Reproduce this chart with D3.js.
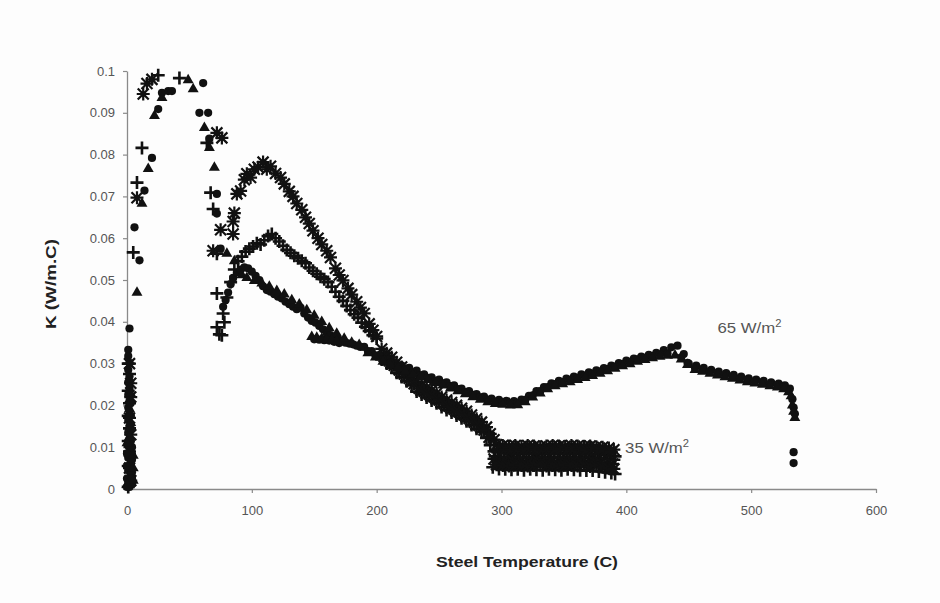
<!DOCTYPE html>
<html><head><meta charset="utf-8">
<script src="https://cdn.jsdelivr.net/npm/d3@7"></script>
<style>
html,body{margin:0;padding:0;background:#fff;}
svg{display:block;}
</style></head>
<body>
<script>
// ---------- data ----------
const xTicks = [0, 100, 200, 300, 400, 500, 600];
const yTicks = [0, 0.01, 0.02, 0.03, 0.04, 0.05, 0.06, 0.07, 0.08, 0.09, 0.1];
const yTickLabels = ["0", "0.01", "0.02", "0.03", "0.04", "0.05", "0.06", "0.07", "0.08", "0.09", "0.1"];
const xTitle = "Steel Temperature (C)";
const yTitle = "K (W/m.C)";
const labels = ["65 W/m", "35 W/m"];

// 65 W/m2 run, filled circles  [temperature C, K W/m.C]
const circleData = [
 [1,0.0333],[1,0.0318],[2,0.0302],[1,0.0285],[2,0.027],[1,0.0255],[2,0.024],[1,0.0225],[2,0.021],[1,0.0195],
 [2,0.018],[1,0.0165],[2,0.015],[1,0.0135],[2,0.012],[1,0.0105],[3,0.009],[1,0.0075],[3,0.006],[1,0.0045],
 [3,0.003],[1,0.0015],[2,0.0005],[4,0.0012],[0,0.0025],[4,0.004],[0,0.0055],[4,0.007],[0,0.0085],[4,0.01],
 [0,0.0005],[4,0.0025],[3,0.0115],[3,0.0145],[3,0.0175],[3,0.0205],
 [2,0.0384],[6,0.0626],[10,0.0547],[14,0.0714],[20,0.0792],[25,0.0909],[28,0.0948],[33,0.0952],[36,0.0952],
 [61,0.0971],[58,0.09],[65,0.09],[66,0.0838],[72,0.0706],[72,0.0659],[75,0.0575],
 [77,0.0436],[79,0.0452],[81,0.047],[83,0.049],[85,0.0505],[88,0.0518],[91,0.0525],[94,0.053],[97,0.0528],
 [100,0.052],[103,0.051],[106,0.05],[109,0.0485],[112,0.0476],[115,0.0472],[118,0.0466],[121,0.046],[124,0.0456],
 [127,0.0448],[130,0.0442],[133,0.0436],[136,0.043],[139,0.0434],[142,0.042],[145,0.041],[148,0.0402],[151,0.0398],
 [154,0.039],[157,0.0382],[160,0.0372],[163,0.0368],[166,0.0362],[169,0.0358],[172,0.0354],[175,0.035],[178,0.0348],
 [181,0.0346],[184,0.0343],[187,0.034],
 [150,0.0358],[154,0.0357],[158,0.0356],[162,0.0355],[166,0.0352],[170,0.0349],
 [190,0.034],[196,0.033],[202,0.032],[208,0.0311],[214,0.0303],[220,0.0295],[226,0.029],[232,0.0283],[238,0.0274],
 [244,0.0267],[250,0.0262],[256,0.0255],[262,0.0248],[268,0.024],[274,0.0234],[280,0.0227],[286,0.0221],[292,0.0216],
 [298,0.0213],[304,0.0211],[310,0.021],[316,0.0214],[322,0.0223],[328,0.0234],[334,0.0244],[340,0.0253],[346,0.0259],
 [352,0.0264],[358,0.0269],[364,0.0274],[370,0.0279],[376,0.0284],[382,0.0289],[388,0.0295],[394,0.0301],[400,0.0307],
 [406,0.0312],[412,0.0317],[418,0.0321],[424,0.0326],[430,0.0332],[436,0.0339],[441,0.0343],[446,0.0323],[450,0.03],
 [456,0.0295],[462,0.029],[468,0.0285],[474,0.0281],[480,0.0277],[486,0.0273],[492,0.0269],[498,0.0265],[504,0.0262],
 [510,0.0259],[516,0.0255],[522,0.0252],[527,0.0248],[531,0.024],[533,0.0215],[534,0.0195],[535,0.018],
 [534,0.0088],[534,0.0062],
 [193,0.033],[199,0.032],[205,0.031],[211,0.0302],[217,0.0294],[223,0.0286],[229,0.0279],[235,0.0272],[241,0.0266],
 [247,0.0259],[253,0.0253],[259,0.0246],[265,0.0239],[271,0.0232],[277,0.0225],[283,0.0219],[289,0.0213],[295,0.0209],
 [301,0.0207],[307,0.0205],[313,0.0206],[319,0.0213],[325,0.0224],[331,0.0234],[337,0.0244],[343,0.0251],[349,0.0256],
 [355,0.0261],[361,0.0266],[367,0.0271],[373,0.0276],[379,0.0281],[385,0.0287],[391,0.0293],[397,0.0299],[403,0.0304],
 [409,0.031],[415,0.0314],[421,0.0318],[427,0.0322],[433,0.0324],[444,0.0315],[449,0.0302],[455,0.029],[461,0.0286],
 [467,0.0281],[473,0.0277],[479,0.0273],[485,0.0269],[491,0.0265],[497,0.0261],[503,0.0258],[509,0.0255],[515,0.0251],
 [521,0.0248],[526,0.0244]
];

// 65 W/m2 run, filled triangles
const triangleData = [
 [2,0.0262],[3,0.0228],[2,0.0192],[3,0.0158],[2,0.0125],[0,0.011],[5,0.008],[5,0.005],[5,0.002],[0,0.001],
 [8,0.047],[12,0.0683],[17,0.0766],[22,0.0893],[28,0.0936],[49,0.0978],[53,0.0957],[62,0.0864],[66,0.0816],[70,0.0769],
 [80,0.0563],[86,0.0545],[92,0.0512],[96,0.0505],[102,0.0498],[108,0.0492],[114,0.0484],[120,0.0474],[126,0.0466],
 [132,0.0452],[138,0.0442],[144,0.0428],[150,0.0415],[156,0.04],[162,0.0385],[168,0.0372],[174,0.036],[180,0.035],[186,0.0345],
 [148,0.0364],[152,0.0362],[156,0.036],[160,0.0358],[164,0.0356],[168,0.0354],
 [193,0.0325],[199,0.0315],[205,0.0305],[211,0.0297],[217,0.0289],[223,0.0281],[229,0.0274],[235,0.0267],[241,0.0261],
 [247,0.0254],[253,0.0248],[259,0.0241],[265,0.0234],[271,0.0227],[277,0.022],[283,0.0214],[289,0.0208],[295,0.0204],
 [301,0.0202],[307,0.02],[313,0.0201],[319,0.0208],[325,0.0219],[331,0.0229],[337,0.0239],[343,0.0246],[349,0.0251],
 [355,0.0256],[361,0.0261],[367,0.0266],[373,0.0271],[379,0.0276],[385,0.0282],[391,0.0288],[397,0.0294],[403,0.0299],
 [409,0.0305],[415,0.0309],[421,0.0313],[427,0.0317],[433,0.0319],[439,0.032],[444,0.031],[449,0.0297],[455,0.0285],
 [461,0.0281],[467,0.0276],[473,0.0272],[479,0.0268],[485,0.0264],[491,0.026],[497,0.0256],[503,0.0253],[509,0.025],
 [515,0.0246],[521,0.0243],[526,0.0239],[530,0.0232],[532,0.0222],[533,0.02],[534,0.0185],[535,0.017]
];

// 35 W/m2 run, plus signs
const plusData = [
 [1,0.03],[2,0.0275],[1,0.0235],[2,0.0205],[1,0.0175],[2,0.0145],[1,0.0115],[2,0.0085],[1,0.0055],[2,0.0025],[1,0.0005],
 [5,0.0566],[8,0.0733],[12,0.0816],[25,0.099],[42,0.0983],[64,0.0828],[67,0.0709],[69,0.067],[72,0.0563],[72,0.0468],
 [72,0.0387],[74,0.037],[76,0.0368],[77,0.042],[78,0.0399],
 [80,0.0458],[83,0.0495],[86,0.0525],[89,0.0545],[92,0.0556],[95,0.0568],[98,0.0575],[101,0.058],[104,0.0588],[107,0.0585],
 [110,0.0595],[113,0.0605],[116,0.061],[119,0.06],[122,0.0592],[125,0.0582],[128,0.0572],[131,0.0565],[134,0.0558],
 [137,0.0552],[140,0.0546],[143,0.054],[146,0.053],[149,0.0522],[152,0.0515],[155,0.0508],[158,0.0502],[161,0.0495],
 [164,0.0484],[167,0.0472],[170,0.046],[173,0.045],[176,0.0438],[179,0.0428],[182,0.0418],[185,0.041],[188,0.0398],
 [191,0.0388],[194,0.0378],[197,0.0368],[200,0.036],
 [204,0.031],[208,0.03],[212,0.029],[216,0.0278],[220,0.0268],[224,0.0258],[228,0.0248],[232,0.0233],[236,0.0226],
 [240,0.0219],[244,0.0212],[248,0.0205],[252,0.0196],[256,0.0189],[260,0.0183],[264,0.0176],[268,0.0169],[272,0.0162],
 [276,0.0153],[280,0.0144],[284,0.0136],[288,0.0122],[291,0.0105],[294,0.009],
 [297,0.0088],[302,0.0086],[307,0.0085],[312,0.0086],[317,0.0084],[322,0.0086],[327,0.0085],[332,0.0084],[337,0.0086],
 [342,0.0085],[347,0.0084],[352,0.0086],[357,0.0085],[362,0.0084],[367,0.0085],[372,0.0083],[377,0.0084],[382,0.0082],
 [387,0.008],[391,0.0078],
 [293,0.0052],[298,0.0048],[303,0.0047],[308,0.0046],[313,0.0047],[318,0.0045],[323,0.0047],[328,0.0046],[333,0.0045],
 [338,0.0047],[343,0.0046],[348,0.0045],[353,0.0047],[358,0.0046],[363,0.0045],[368,0.0044],[373,0.0044],[378,0.0042],
 [383,0.004],[388,0.0038],[391,0.0036],
 [295,0.0078],[300,0.0076],[305,0.0075],[310,0.0076],[315,0.0074],[320,0.0075],[325,0.0076],[330,0.0074],[335,0.0075],
 [340,0.0076],[345,0.0074],[350,0.0075],[355,0.0076],[360,0.0074],[365,0.0075],[370,0.0074],[375,0.0075],[380,0.0073],
 [385,0.0072],[390,0.007]
];

// 35 W/m2 run, asterisks
const starData = [
 [3,0.0253],[2,0.03],[3,0.022],[2,0.017],[3,0.013],[2,0.009],[2,0.005],[3,0.002],
 [8,0.0697],[13,0.0945],[16,0.097],[20,0.098],[72,0.0852],[76,0.084],[69,0.057],[75,0.062],[85,0.064],[85,0.061],
 [86,0.066],[88,0.0706],[91,0.0713],[94,0.074],[96,0.0754],[99,0.0745],[102,0.0765],[105,0.077],[109,0.0782],[112,0.0765],
 [115,0.0772],[119,0.0755],[123,0.0745],[126,0.073],[130,0.0712],[133,0.07],[136,0.0683],[140,0.0668],[143,0.065],
 [146,0.0635],[149,0.0618],[153,0.06],[156,0.0585],[160,0.057],[163,0.0554],[167,0.0528],[170,0.0512],[173,0.0499],
 [177,0.048],[180,0.0465],[184,0.0448],[187,0.0434],[190,0.042],[194,0.0395],[197,0.038],[200,0.0365],
 [204,0.0335],[208,0.0325],[212,0.0315],[216,0.0303],[220,0.0292],[224,0.0282],[228,0.0272],[232,0.0257],[236,0.025],
 [240,0.0243],[244,0.0236],[248,0.0229],[252,0.022],[256,0.0213],[260,0.0207],[264,0.02],[268,0.0193],[272,0.0186],
 [276,0.0177],[280,0.0168],[284,0.016],[288,0.0148],[291,0.0132],[294,0.0118],
 [206,0.0317],[210,0.0307],[214,0.0296],[218,0.0285],[222,0.0275],[226,0.0265],[230,0.0252],[234,0.0241],[238,0.0234],
 [242,0.0227],[246,0.022],[250,0.0213],[254,0.0204],[258,0.0198],[262,0.0191],[266,0.0184],[270,0.0177],[274,0.0169],
 [278,0.016],[282,0.0152],[286,0.0141],[290,0.0124],
 [296,0.0106],[301,0.0104],[306,0.0103],[311,0.0104],[316,0.0102],[321,0.0104],[326,0.0103],[331,0.0101],[336,0.0103],
 [341,0.0104],[346,0.0103],[351,0.0102],[356,0.0104],[361,0.0103],[366,0.0102],[371,0.0103],[376,0.0101],[381,0.01],
 [386,0.0098],[390,0.0094],
 [294,0.0072],[299,0.0066],[304,0.0065],[309,0.0067],[314,0.0066],[319,0.0064],[324,0.0066],[329,0.0067],[334,0.0065],
 [339,0.0066],[344,0.0064],[349,0.0066],[354,0.0065],[359,0.0067],[364,0.0065],[369,0.0064],[374,0.0066],[379,0.0064],
 [384,0.0062],[389,0.006],
 [298,0.0096],[303,0.0095],[308,0.0094],[313,0.0095],[318,0.0094],[323,0.0096],[328,0.0094],[333,0.0095],[338,0.0094],
 [343,0.0095],[348,0.0096],[353,0.0094],[358,0.0095],[363,0.0094],[368,0.0093],[373,0.0094],[378,0.0092],[383,0.0091],
 [388,0.0089],
 [296,0.0058],[301,0.0056],[306,0.0055],[311,0.0057],[316,0.0056],[321,0.0055],[326,0.0056],[331,0.0057],[336,0.0055],
 [341,0.0056],[346,0.0055],[351,0.0057],[356,0.0056],[361,0.0055],[366,0.0056],[371,0.0054],[376,0.0055],[381,0.0052],
 [386,0.005],[390,0.0048]
];

// ---------- drawing ----------
const W = 940, H = 603;
const svg = d3.select("body").append("svg").attr("width", W).attr("height", H);
svg.append("rect").attr("width", W).attr("height", H).attr("fill", "#fdfdfd");

const x = d3.scaleLinear().domain([0, 600]).range([127, 876]);
const y = d3.scaleLinear().domain([0, 0.1]).range([489, 71]);

const font = "'Liberation Sans', Arial, sans-serif";
const axisColor = "#8a8a8a";
const textColor = "#555";

const gx = svg.append("g").attr("transform", `translate(0,${y(0)})`)
  .call(d3.axisBottom(x).tickValues(xTicks).tickFormat(d3.format("d")).tickSizeInner(4).tickSizeOuter(0).tickPadding(13));
const gy = svg.append("g").attr("transform", `translate(${x(0)},0)`)
  .call(d3.axisLeft(y).tickValues(yTicks).tickFormat((d, i) => yTickLabels[i]).tickSizeInner(4).tickSizeOuter(0).tickPadding(8));
[gx, gy].forEach(g => {
  g.select(".domain").attr("stroke", axisColor).attr("stroke-width", 1.3);
  g.selectAll(".tick line").attr("stroke", axisColor).attr("stroke-width", 1.2);
  g.selectAll(".tick text").attr("fill", textColor).style("font-family", font).style("font-size", "13px");
});

const ink = "#111";
const plot = svg.append("g");

// plus
plot.append("g").selectAll("path").data(plusData).join("path")
  .attr("d", "M-6.5,0H6.5M0,-6.5V6.5")
  .attr("transform", d => `translate(${x(d[0])},${y(d[1])})`)
  .attr("stroke", ink).attr("stroke-width", 2.6).attr("fill", "none");

// asterisk
plot.append("g").selectAll("path").data(starData).join("path")
  .attr("d", "M-5.5,-5.5L5.5,5.5M-5.5,5.5L5.5,-5.5M0,-6.5V6.5M-6.5,0H6.5")
  .attr("transform", d => `translate(${x(d[0])},${y(d[1])})`)
  .attr("stroke", ink).attr("stroke-width", 2.2).attr("fill", "none");

// circles
plot.append("g").selectAll("circle").data(circleData).join("circle")
  .attr("cx", d => x(d[0])).attr("cy", d => y(d[1])).attr("r", 4.1).attr("fill", ink);

// triangles
const tri = d3.symbol().type(d3.symbolTriangle).size(52);
plot.append("g").selectAll("path").data(triangleData).join("path")
  .attr("d", tri).attr("transform", d => `translate(${x(d[0])},${y(d[1])})`).attr("fill", ink);

// annotations
const ann = [[labels[0], 473, 0.0373], [labels[1], 399, 0.0086]];
ann.forEach(a => {
  const t = svg.append("text").attr("x", x(a[1])).attr("y", y(a[2]))
    .attr("fill", textColor).style("font-family", font).style("font-size", "15px")
    .attr("textLength", 64).attr("lengthAdjust", "spacingAndGlyphs");
  t.append("tspan").text(a[0]);
  t.append("tspan").attr("dy", -6).style("font-size", "10px").text("2");
});

// axis titles
svg.append("text").attr("x", 527).attr("y", 567).attr("text-anchor", "middle")
  .attr("fill", "#222").style("font-family", font).style("font-size", "15px").style("font-weight", "bold")
  .attr("textLength", 182).attr("lengthAdjust", "spacingAndGlyphs")
  .text(xTitle);
svg.append("text").attr("transform", "translate(56,284) rotate(-90)").attr("text-anchor", "middle")
  .attr("fill", "#222").style("font-family", font).style("font-size", "15px").style("font-weight", "bold")
  .attr("textLength", 90).attr("lengthAdjust", "spacingAndGlyphs")
  .text(yTitle);
</script>
</body></html>
